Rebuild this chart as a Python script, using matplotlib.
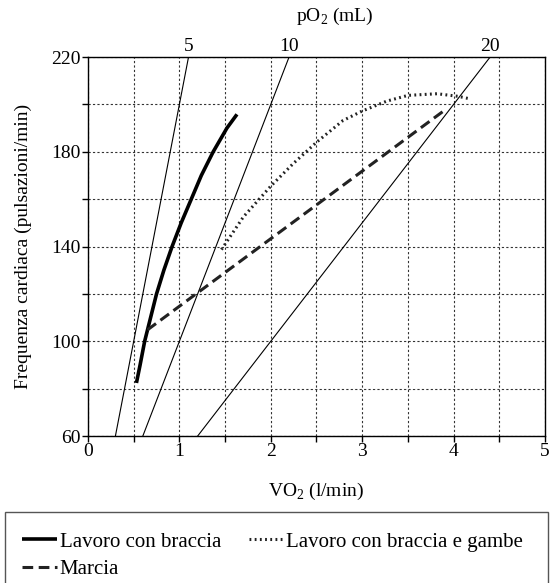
import matplotlib.pyplot as plt
import numpy as np
from matplotlib.patches import Rectangle

plt.rcParams['font.family'] = ['Liberation Serif', 'DejaVu Serif']
plt.rcParams['mathtext.fontset'] = 'custom'
plt.rcParams['mathtext.rm'] = 'Liberation Serif'

# data
arm_vo2 = [0.53, 0.57, 0.62, 0.685, 0.75, 0.83, 0.92, 1.02, 1.13, 1.24, 1.37, 1.52, 1.63]
arm_hr = [82.4, 90, 100, 110, 120, 130, 140, 150, 160, 170, 180, 190, 195.8]

armleg_vo2 = [1.46, 1.70, 2.00, 2.245, 2.50, 2.79, 3.00, 3.27, 3.50, 3.82, 4.05, 4.16]
armleg_hr = [138.7, 152.5, 165.5, 175, 184, 193.2, 197.2, 201.4, 203.8, 204.5, 203.4, 202.5]

walk_vo2 = [0.65, 3.89]
walk_hr = [104.8, 197.2]

po2_levels = [5, 10, 20]

fig = plt.figure(figsize=(5.52, 5.83), dpi=100)
ax = fig.add_axes([0.1594, 0.2521, 0.8279, 0.6501])

ax.set_xlim(0, 5)
ax.set_ylim(60, 220)

# iso-pO2 lines: HR = VO2 * 1000 / pO2
for p in po2_levels:
    x0 = 60 * p / 1000
    x1 = 220 * p / 1000
    ax.plot([x0, x1], [60, 220], color='black', lw=0.8)
    ax.text(x1, 221, str(p), ha='center', va='bottom', fontsize=14)

fig.text(335 / 552, 1 - 16 / 583, 'pO$_2$ (mL)', ha='center', va='center', fontsize=14)

l1, = ax.plot(arm_vo2, arm_hr, color='black', lw=2.6, solid_capstyle='butt',
              label='Lavoro con braccia')
l2, = ax.plot(armleg_vo2, armleg_hr, color='#222222', lw=2.2, linestyle=(0, (0.6, 1.1)),
              label='Lavoro con braccia e gambe')
l3, = ax.plot(walk_vo2, walk_hr, color='#222222', lw=2.2, linestyle=(0, (3.5, 1.8)),
              label='Marcia')

ax.set_xticks(np.arange(0, 5.01, 0.5))
ax.set_xticklabels(['0', '', '1', '', '2', '', '3', '', '4', '', '5'])
ax.set_yticks(np.arange(60, 221, 20))
ax.set_yticklabels(['60', '', '100', '', '140', '', '180', '', '220'])
ax.tick_params(direction='out', length=4, width=1, labelsize=14, pad=1)
ax.grid(True, color='#333333', lw=0.8, linestyle=(0, (2, 2)))

for s in ax.spines.values():
    s.set_linewidth(1.0)

ax.set_xlabel('VO$_2$ (l/min)', fontsize=14, labelpad=15)
ax.set_ylabel('Frequenza cardiaca (pulsazioni/min)', fontsize=14, labelpad=14)

# legend box at the bottom
fig.patches.append(Rectangle((5 / 552, -0.05), 543 / 552, 0.05 + (583 - 512) / 583,
                             transform=fig.transFigure, fill=False,
                             edgecolor='#555555', lw=1.0))
fig.legend(handles=[l1, l3, l2], ncol=2, frameon=False, fontsize=15,
           loc='upper left', bbox_to_anchor=(22 / 552, 1 - 532 / 583),
           handlelength=1.7, handletextpad=0.1, columnspacing=1.35,
           labelspacing=0.4, borderpad=0, borderaxespad=0)

fig.savefig('out.png', dpi=100)
